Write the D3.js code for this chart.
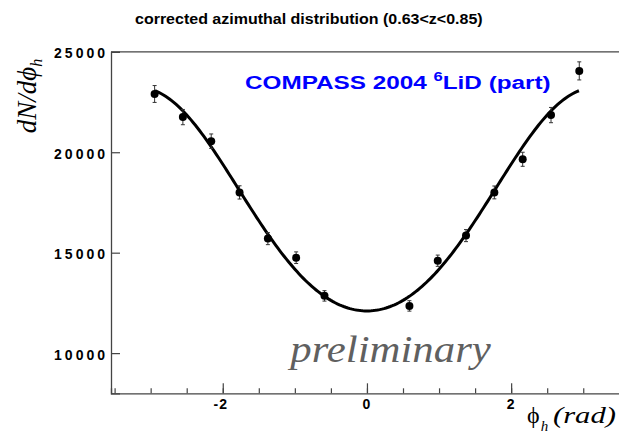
<!DOCTYPE html>
<html>
<head>
<meta charset="utf-8">
<script src="https://cdn.jsdelivr.net/npm/d3@7/dist/d3.min.js"></script>
<style>
  html, body { margin: 0; padding: 0; background: #fff; }
  svg { display: block; }
</style>
</head>
<body>
<svg id="chart" width="619" height="437"></svg>
<script>
// Bin centres of the azimuthal histogram (rad); the two central bins are empty
const phiBins = [-2.945, -2.553, -2.160, -1.767, -1.374, -0.982, -0.589,
                 0.589, 0.982, 1.374, 1.767, 2.160, 2.553, 2.945];
// Corrected counts per bin
const counts = [22900, 21750, 20550, 18000, 15700, 14750, 12850,
                12350, 14600, 15850, 18000, 19650, 21850, 24050];
// Statistical uncertainties
const countErrors = [420, 380, 360, 330, 300, 290, 260,
                     260, 280, 300, 320, 350, 380, 450];
// Fit: A + B cos(phi) + C cos(2 phi), drawn over the histogram range
const fitParams = [17315, -5550, 335];
const fitRange = [-2.94, 2.94];

const yTicks = [10000, 15000, 20000, 25000];
const xTicks = [-2, 0, 2];

const svg = d3.select("#chart");
const x = d3.scaleLinear().domain([-3.55, 3.55]).range([111, 622.9]);
const y = d3.scaleLinear().domain([8000, 25000]).range([393.3, 51.8]);

const axisColor = "#444";
const sans = "'Liberation Sans', Arial, sans-serif";
const serif = "'Liberation Serif', 'Times New Roman', serif";

// Stretch a text element horizontally to a given width, keeping its left edge
function stretchTo(sel, width) {
  const bb = sel.node().getBBox();
  const s = width / bb.width;
  sel.attr("transform", `translate(${bb.x},0) scale(${s},1) translate(${-bb.x},0)`);
}

// Title
const title = svg.append("text")
  .attr("x", 135).attr("y", 24)
  .attr("font-family", sans).attr("font-weight", "bold").attr("font-size", 15)
  .text("corrected azimuthal distribution (0.63<z<0.85)");
stretchTo(title, 348);

// Frame: top edge
svg.append("line")
  .attr("x1", x.range()[0]).attr("x2", x.range()[1])
  .attr("y1", y(25000)).attr("y2", y(25000))
  .attr("stroke", axisColor).attr("stroke-width", 1.3);

// Y axis (ticks inward)
const yAxis = d3.axisRight(y).tickValues(yTicks).tickSize(9).tickFormat("");
const gy = svg.append("g").attr("transform", `translate(${x.range()[0]},0)`).call(yAxis);
gy.select(".domain").attr("stroke", axisColor).attr("stroke-width", 1.3);
gy.selectAll(".tick line").attr("stroke", axisColor).attr("stroke-width", 1.2);
svg.append("g").selectAll("text").data(yTicks).join("text")
  .attr("x", 108).attr("y", d => y(d) + 6.5)
  .attr("text-anchor", "end")
  .attr("font-family", sans).attr("font-weight", "bold").attr("font-size", 14)
  .attr("letter-spacing", 3)
  .text(d => d);

// X axis: major ticks with labels, minor ticks every 0.5
const xAxisMinor = d3.axisTop(x).tickValues(d3.range(-3.5, 3.51, 0.5)).tickSize(5).tickFormat("");
const gxm = svg.append("g").attr("transform", `translate(0,${y.range()[0]})`).call(xAxisMinor);
gxm.select(".domain").attr("stroke", axisColor).attr("stroke-width", 1.3);
gxm.selectAll(".tick line").attr("stroke", axisColor).attr("stroke-width", 1.2);
const xAxisMajor = d3.axisTop(x).tickValues(xTicks).tickSize(10).tickFormat("");
const gxM = svg.append("g").attr("transform", `translate(0,${y.range()[0]})`).call(xAxisMajor);
gxM.select(".domain").remove();
gxM.selectAll(".tick line").attr("stroke", axisColor).attr("stroke-width", 1.2);
svg.append("g").selectAll("text").data(xTicks).join("text")
  .attr("x", d => x(d) - (d < 0 ? 2 : 0)).attr("y", 409)
  .attr("text-anchor", "middle")
  .attr("font-family", sans).attr("font-weight", "bold").attr("font-size", 14)
  .attr("letter-spacing", 1)
  .text(d => d);

// Axis titles
const yt = svg.append("text")
  .attr("transform", "translate(36,96) rotate(-90)")
  .attr("text-anchor", "middle")
  .attr("font-family", serif).attr("font-style", "italic").attr("font-size", 27);
yt.append("tspan").text("dN/d\u03d5");
yt.append("tspan").attr("font-size", 16).attr("dy", 6).text("h");

const xt = svg.append("text")
  .attr("x", 527).attr("y", 423)
  .attr("font-family", serif).attr("font-size", 24);
xt.append("tspan").text("\u03d5");
xt.append("tspan").attr("font-size", 15).attr("font-style", "italic").attr("dy", 8).attr("dx", 1).text("h");
const rad = svg.append("text")
  .attr("x", 553).attr("y", 423)
  .attr("font-family", serif).attr("font-style", "italic").attr("font-size", 24)
  .text("(rad)");
stretchTo(rad, 63);

// Fit curve
const fit = p => fitParams[0] + fitParams[1] * Math.cos(p) + fitParams[2] * Math.cos(2 * p);
const curvePts = d3.range(fitRange[0], fitRange[1] + 1e-9, (fitRange[1] - fitRange[0]) / 200);
svg.append("path")
  .datum(curvePts)
  .attr("fill", "none").attr("stroke", "#000").attr("stroke-width", 3)
  .attr("d", d3.line().x(p => x(p)).y(p => y(fit(p))));

// Data points with error bars
const pts = phiBins.map((p, i) => ({ p, v: counts[i], e: countErrors[i] }));
const eb = svg.append("g").attr("stroke", "#333").attr("stroke-width", 1);
eb.selectAll(".bar").data(pts).join("line")
  .attr("x1", d => x(d.p)).attr("x2", d => x(d.p))
  .attr("y1", d => y(d.v + d.e)).attr("y2", d => y(d.v - d.e));
eb.selectAll(".capTop").data(pts).join("line")
  .attr("x1", d => x(d.p) - 2).attr("x2", d => x(d.p) + 2)
  .attr("y1", d => y(d.v + d.e)).attr("y2", d => y(d.v + d.e));
eb.selectAll(".capBot").data(pts).join("line")
  .attr("x1", d => x(d.p) - 2).attr("x2", d => x(d.p) + 2)
  .attr("y1", d => y(d.v - d.e)).attr("y2", d => y(d.v - d.e));
svg.append("g").selectAll("circle").data(pts).join("circle")
  .attr("cx", d => x(d.p)).attr("cy", d => y(d.v)).attr("r", 4)
  .attr("fill", "#000");

// Legend label
const lg = svg.append("text")
  .attr("x", 245).attr("y", 89)
  .attr("font-family", sans).attr("font-weight", "bold").attr("font-size", 19)
  .attr("fill", "#0000ff");
lg.append("tspan").text("COMPASS 2004 ");
lg.append("tspan").attr("font-size", 13).attr("dy", -8).text("6");
lg.append("tspan").attr("dy", 8).text("LiD (part)");
stretchTo(lg, 306);

// Watermark
const prelim = svg.append("text")
  .attr("x", 290).attr("y", 362)
  .attr("font-family", serif).attr("font-style", "italic").attr("font-size", 38)
  .attr("fill", "#606060")
  .text("preliminary");
stretchTo(prelim, 204);
</script>
</body>
</html>
